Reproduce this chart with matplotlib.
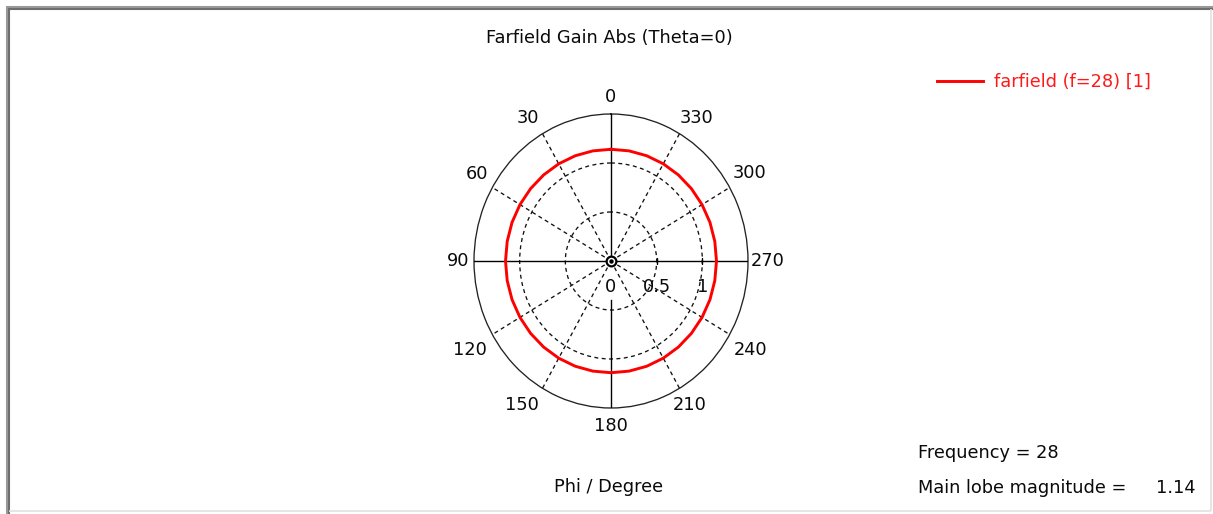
import numpy as np
import matplotlib
matplotlib.use("Agg")
import matplotlib.pyplot as plt
from matplotlib.lines import Line2D
from matplotlib.transforms import offset_copy

# ---------------- data ----------------
phi_deg = [0, 10, 20, 30, 40, 50, 60, 70, 80, 90, 100, 110, 120, 130, 140, 150,
           160, 170, 180, 190, 200, 210, 220, 230, 240, 250, 260, 270, 280, 290,
           300, 310, 320, 330, 340, 350, 360]
gain = [1.14, 1.141, 1.143, 1.145, 1.147, 1.149, 1.151, 1.153, 1.154, 1.155,
        1.154, 1.153, 1.151, 1.149, 1.147, 1.145, 1.143, 1.141, 1.14, 1.141,
        1.143, 1.145, 1.147, 1.149, 1.151, 1.153, 1.154, 1.155, 1.154, 1.153,
        1.151, 1.149, 1.147, 1.145, 1.143, 1.141, 1.14]
angle_ticks = [0, 30, 60, 90, 120, 150, 180, 210, 240, 270, 300, 330]
angle_labels = ["0", "30", "60", "90", "120", "150", "180", "210", "240", "270", "300", "330"]
radial_ticks = [0, 0.5, 1]
radial_labels = ["0", "0.5", "1"]
r_max = 1.5
title = "Farfield Gain Abs (Theta=0)"
series_label = "farfield (f=28) [1]"
xlabel = "Phi / Degree"
info_freq = "Frequency = 28"
info_lobe_label = "Main lobe magnitude ="
info_lobe_value = "1.14"

# label placement (style)
label_r = [1.673, 1.72, 1.715, 1.675, 1.79, 1.76, 1.68, 1.705, 1.773, 1.72, 1.758, 1.737]
label_theta = [0, 31.9, 58.8, 90, 120.4, 146.4, 180, 210.5, 239.2, 270, 300.7, 327.2]

W, H = 1213, 514
fig = plt.figure(figsize=(W / 100, H / 100), dpi=100)
fig.patch.set_facecolor("white")
FS = 12.8
TXT = "#0a0a0a"

# ---------------- frame ----------------
def px_line(x0, y0, x1, y1, color, lw):
    fig.add_artist(Line2D([x0 / W, x1 / W], [1 - y0 / H, 1 - y1 / H],
                          transform=fig.transFigure, color=color, lw=lw,
                          solid_capstyle="butt"))

px_line(7, 6, 7, 514, "#9a9a9a", 1.5)
px_line(9, 8, 9, 514, "#6e6e6e", 1.5)
px_line(6, 6.5, 1213, 6.5, "#9a9a9a", 1.5)
px_line(8, 8.5, 1213, 8.5, "#6e6e6e", 1.5)
px_line(1210.5, 9, 1210.5, 511, "#e2e2e2", 1.2)
px_line(9, 511, 1211, 511, "#e2e2e2", 1.2)

# ---------------- polar axes ----------------
cx, cy = 611, 261
rx, ry = 137, 147
ax = fig.add_axes([(cx - rx) / W, 1 - (cy + ry) / H, 2 * rx / W, 2 * ry / H],
                  projection="polar")
ax.set_aspect("auto")
ax.set_theta_zero_location("N")
ax.set_theta_direction(1)
ax.set_ylim(0, r_max)
ax.set_facecolor("white")

ax.set_xticks(np.deg2rad(angle_ticks))
ax.set_xticklabels([])
ax.set_yticks(radial_ticks[1:])
ax.set_yticklabels([])
ax.tick_params(axis="x", direction="in", length=3, width=0.9, color="black")
ax.tick_params(axis="y", length=0)
ax.grid(True, color="#111111", lw=0.95, ls=(0, (3, 2.6)))
ax.spines["polar"].set_color("#222222")
ax.spines["polar"].set_linewidth(0.95)

# hide dashed spokes on the cardinal directions (drawn solid below)
for a, gl in zip(angle_ticks, ax.xaxis.get_gridlines()):
    if a % 90 == 0:
        gl.set_visible(False)

# solid cardinal axes
for a in [0, 90, 270]:
    ax.plot([np.deg2rad(a)] * 2, [0, r_max], color="black", lw=1.0, zorder=3)
ax.plot([np.deg2rad(180)] * 2, [0.40, r_max], color="black", lw=1.0, zorder=3)

# radial tick marks on the 270 axis
ax.plot([np.deg2rad(270)] * 2, radial_ticks[1:], ls="none", marker="|",
        ms=5, mew=1.0, color="black", zorder=4)

# data curve
ax.plot(np.deg2rad(phi_deg), gain, color="#ff0000", lw=2.1, zorder=5,
        label=series_label)

# centre marker
ax.plot([0], [0], marker="o", ms=7, mfc="white", mec="black", mew=1.6, zorder=6)
ax.plot([0], [0], marker="o", ms=2.2, color="black", zorder=7)

# angle labels
for t, r, lab in zip(label_theta, label_r, angle_labels):
    ax.text(np.deg2rad(t), r, lab, ha="center", va="center", fontsize=FS,
            color=TXT, clip_on=False)

# radial labels (below the 270 axis)
tr = offset_copy(ax.transData, fig=fig, x=0, y=-26, units="dots")
for v, lab in zip(radial_ticks, radial_labels):
    ax.text(np.deg2rad(270), v, lab, transform=tr, ha="center", va="center",
            fontsize=FS, color=TXT, clip_on=False, zorder=8)

# ---------------- texts ----------------
fig.text(609 / W, 1 - 38 / H, title, ha="center", va="center", fontsize=FS, color=TXT)
fig.text(609 / W, 1 - 487 / H, xlabel, ha="center", va="center", fontsize=FS, color=TXT)
fig.text(918 / W, 1 - 453 / H, info_freq, ha="left", va="center", fontsize=FS, color=TXT)
fig.text(918 / W, 1 - 488 / H, info_lobe_label, ha="left", va="center", fontsize=FS, color=TXT)
fig.text(1196 / W, 1 - 488 / H, info_lobe_value, ha="right", va="center", fontsize=FS, color=TXT)

# legend
h, l = ax.get_legend_handles_labels()
fig.legend(h, l, loc="center left", bbox_to_anchor=(937 / W, 1 - 82 / H),
           frameon=False, fontsize=FS, labelcolor="#ff1a1a", handlelength=2.6,
           handletextpad=0.62, borderaxespad=0, borderpad=0)

fig.savefig("out.png", dpi=100)
